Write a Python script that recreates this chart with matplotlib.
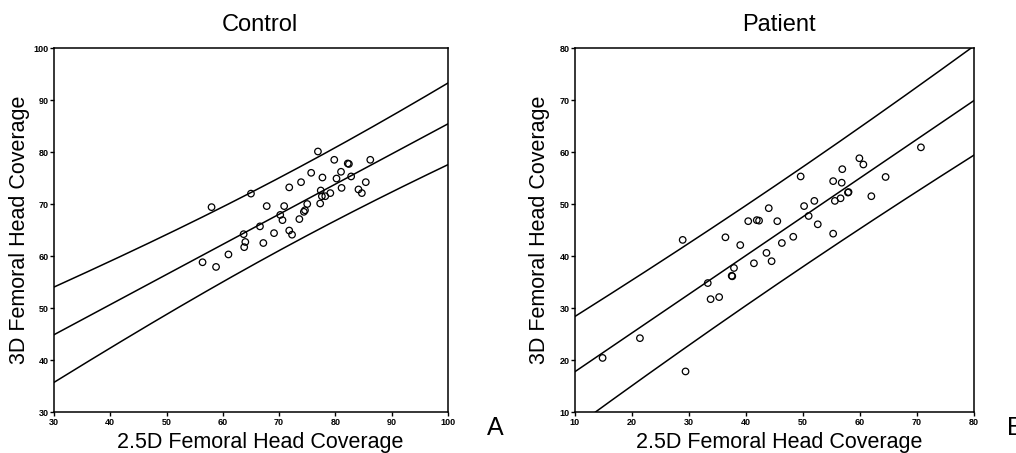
import numpy as np
import matplotlib
matplotlib.use("Agg")
import matplotlib.pyplot as plt

plt.rcParams['font.family'] = ['Liberation Sans', 'DejaVu Sans']

# Control group: 2.5D vs 3D femoral head coverage
ctrl_x = [58.0, 65.0, 56.4, 58.8, 61.0, 63.7, 64.0, 63.8, 66.6, 67.2, 67.8,
          69.1, 70.2, 70.6, 70.9, 71.8, 71.8, 72.3, 73.6, 73.9, 74.4, 74.6,
          75.0, 75.7, 76.9, 77.3, 77.4, 77.6, 77.7, 78.2, 79.1, 79.8, 80.2,
          81.0, 81.1, 82.2, 82.4, 82.8, 84.1, 84.7, 85.4, 86.2]
ctrl_y = [69.4, 72.0, 58.8, 57.9, 60.3, 64.2, 62.7, 61.7, 65.7, 62.5, 69.6,
          64.4, 67.9, 66.9, 69.6, 73.2, 64.9, 64.1, 67.1, 74.2, 68.5, 68.8,
          70.0, 76.0, 80.1, 70.1, 72.6, 71.5, 75.1, 71.5, 72.1, 78.5, 74.9,
          76.2, 73.1, 77.8, 77.7, 75.3, 72.8, 72.1, 74.2, 78.5]

# Patient group
pat_x = [14.85, 21.4, 28.9, 29.4, 33.3, 33.8, 35.3, 36.4, 37.5, 37.6, 37.9,
         39.0, 40.4, 41.4, 41.9, 42.3, 43.6, 44.0, 44.5, 45.5, 46.3, 48.3,
         49.6, 50.2, 51.0, 52.0, 52.6, 55.3, 55.3, 55.6, 56.6, 56.8, 56.9,
         57.9, 58.0, 59.9, 60.6, 62.0, 64.5, 70.7]
pat_y = [20.4, 24.2, 43.1, 17.8, 34.8, 31.7, 32.1, 43.6, 36.2, 36.1, 37.7,
         42.1, 46.7, 38.6, 46.9, 46.8, 40.6, 49.2, 39.0, 46.7, 42.5, 43.7,
         55.3, 49.6, 47.7, 50.6, 46.1, 54.4, 44.3, 50.6, 51.1, 54.1, 56.7,
         52.2, 52.3, 58.8, 57.6, 51.5, 55.2, 60.9]

T_CRIT = 2.02  # 95% two-sided t for ~40 df


def fit_band(x, y, xs):
    x = np.asarray(x)
    y = np.asarray(y)
    n = len(x)
    slope, icpt = np.polyfit(x, y, 1)
    resid = y - (icpt + slope * x)
    s = np.sqrt(np.sum(resid ** 2) / (n - 2))
    sxx = np.sum((x - x.mean()) ** 2)
    fit = icpt + slope * xs
    half = T_CRIT * s * np.sqrt(1 + 1 / n + (xs - x.mean()) ** 2 / sxx)
    return fit, fit - half, fit + half


fig = plt.figure(figsize=(10.16, 4.53), dpi=100)
ax1 = fig.add_axes([0.0531, 0.0905, 0.3878, 0.8035])
ax2 = fig.add_axes([0.5659, 0.0905, 0.3927, 0.8035])

panels = [
    (ax1, ctrl_x, ctrl_y, (30, 100), (30, 100), "Control", 0.523, -0.061),
    (ax2, pat_x, pat_y, (10, 80), (10, 80), "Patient", 0.512, -0.063),
]

for ax, x, y, xl, yl, title, cx, ly in panels:
    xs = np.linspace(xl[0], xl[1], 200)
    fit, lo, hi = fit_band(x, y, xs)
    for line in (fit, lo, hi):
        ax.plot(xs, line, color='black', lw=1.1)
    ax.scatter(x, y, s=22, facecolors='none', edgecolors='black',
               linewidths=0.9, zorder=3)
    ax.set_xlim(xl)
    ax.set_ylim(yl)
    ax.set_xticks(np.arange(xl[0], xl[1] + 1, 10))
    ax.set_yticks(np.arange(yl[0], yl[1] + 1, 10))
    ax.tick_params(direction='out', length=3, width=1, labelsize=6.5, pad=1)
    for lab in ax.get_xticklabels() + ax.get_yticklabels():
        lab.set_fontweight('bold')
    for sp in ax.spines.values():
        sp.set_linewidth(1.1)
    ax.set_title(title, fontsize=17, x=cx, pad=12)
    ax.set_xlabel("2.5D Femoral Head Coverage", fontsize=15.5)
    ax.xaxis.set_label_coords(cx, -0.055)
    ax.set_ylabel("3D Femoral Head Coverage", fontsize=15.5)
    ax.yaxis.set_label_coords(ly, 0.5)

fig.text(0.487, 0.055, "A", fontsize=18, ha='center', va='center')
fig.text(0.991, 0.055, "B", fontsize=18, ha='left', va='center')

fig.savefig("out.png", dpi=100)
